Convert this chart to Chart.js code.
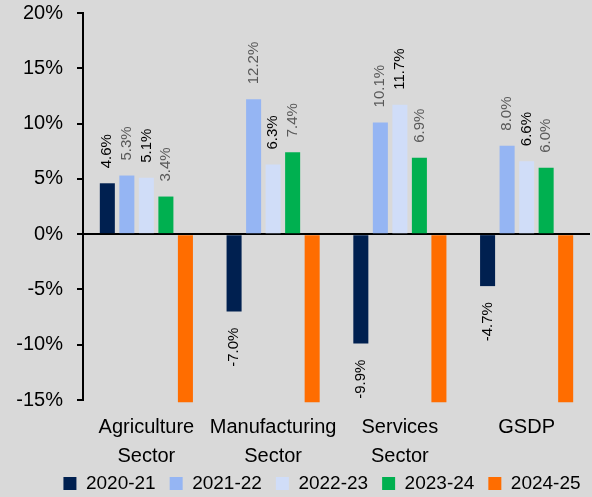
<!DOCTYPE html>
<html lang="en">
<head>
<meta charset="UTF-8">
<title>Sector growth</title>
<script src="https://cdn.jsdelivr.net/npm/chart.js@4/dist/chart.umd.min.js"></script>
<style>
    body { margin: 0; background: #d9d9d9; }
    .chart-box { width: 592px; height: 497px; position: relative; }
</style>
</head>
<body>
<div class="chart-box">
    <canvas id="chart"></canvas>
</div>
<script>
    const categories = [["Agriculture", "Sector"], ["Manufacturing", "Sector"], ["Services", "Sector"], "GSDP"]
    const years = ["2020-21", "2021-22", "2022-23", "2023-24", "2024-25"]

    const growth2021 = [4.6, -7.0, -9.9, -4.7]
    const growth2122 = [5.3, 12.2, 10.1, 8.0]
    const growth2223 = [5.1, 6.3, 11.7, 6.6]
    const growth2324 = [3.4, 7.4, 6.9, 6.0]
    // orange bars run off the bottom of the axis, no label shown
    const growth2425 = [-15.2, -15.2, -15.2, -15.2]

    const yTicks = [-15, -10, -5, 0, 5, 10, 15, 20]

    const colors = ["#002050", "#95b5f3", "#d0ddf8", "#00b050", "#ff6d00"]
    const labelColors = ["#000000", "#595959", "#000000", "#595959", null]
    const series = [growth2021, growth2122, growth2223, growth2324, growth2425]

    const fontFamily = "'Liberation Sans', Arial, sans-serif"

    const barLabels = {
        id: 'barLabels',
        afterDatasetsDraw(chart) {
            const ctx = chart.ctx
            chart.data.datasets.forEach((ds, i) => {
                if (!labelColors[i]) return
                const meta = chart.getDatasetMeta(i)
                meta.data.forEach((bar, j) => {
                    const v = ds.data[j]
                    ctx.save()
                    ctx.font = '15px ' + fontFamily
                    ctx.fillStyle = labelColors[i]
                    ctx.textBaseline = 'middle'
                    if (v >= 0) {
                        ctx.translate(bar.x, bar.y - 15)
                        ctx.rotate(-Math.PI / 2)
                        ctx.textAlign = 'left'
                    } else {
                        ctx.translate(bar.x, bar.y + 16)
                        ctx.rotate(-Math.PI / 2)
                        ctx.textAlign = 'right'
                    }
                    ctx.fillText(v.toFixed(1) + '%', 0, 0)
                    ctx.restore()
                })
            })
        }
    }

    // let the two-line category labels spill below the x box, push legend down and right
    const layoutTweak = {
        id: 'layoutTweak',
        afterLayout(chart) {
            chart.scales.x.bottom += 24
            chart.legend.top += 6
            chart.legend.bottom += 6
            chart.legend.left += 27
            chart.legend.right += 27
        }
    }

    new Chart(document.getElementById('chart'), {
        type: 'bar',
        data: {
            labels: categories,
            datasets: years.map((y, i) => ({
                label: y,
                data: series[i],
                backgroundColor: colors[i],
                borderWidth: 0,
                barPercentage: 0.77,
                categoryPercentage: 0.77,
                clip: false
            }))
        },
        options: {
            responsive: true,
            maintainAspectRatio: false,
            animation: false,
            layout: { padding: { top: 13, right: 2, left: 0, bottom: 0 } },
            plugins: {
                tooltip: { enabled: false },
                legend: {
                    position: 'bottom',
                    labels: {
                        color: '#000',
                        font: { family: fontFamily, size: 19 },
                        boxWidth: 13,
                        boxHeight: 13,
                        padding: 14
                    }
                }
            },
            scales: {
                x: {
                    grid: { display: false },
                    border: { display: false },
                    afterFit: (scale) => { scale.height = 54 },
                    ticks: {
                        color: '#000',
                        font: { family: fontFamily, size: 20, lineHeight: 1.45 },
                        maxRotation: 0,
                        autoSkip: false,
                        padding: 5
                    }
                },
                y: {
                    min: -15,
                    max: 20,
                    afterBuildTicks: (scale) => {
                        scale.ticks = yTicks.map(v => ({ value: v }))
                    },
                    afterFit: (scale) => {
                        scale.width = 83
                        scale.paddingTop = 0
                        scale.paddingBottom = 0
                    },
                    border: { display: true, color: '#000', width: 2 },
                    grid: {
                        drawOnChartArea: true,
                        color: (c) => c.tick && c.tick.value === 0 ? '#000' : 'rgba(0,0,0,0)',
                        lineWidth: 2,
                        tickColor: '#000',
                        tickLength: 6
                    },
                    ticks: {
                        color: '#000',
                        font: { family: fontFamily, size: 20 },
                        padding: 14,
                        callback: (v) => v + '%'
                    }
                }
            }
        },
        plugins: [barLabels, layoutTweak]
    })
</script>
</body>
</html>
